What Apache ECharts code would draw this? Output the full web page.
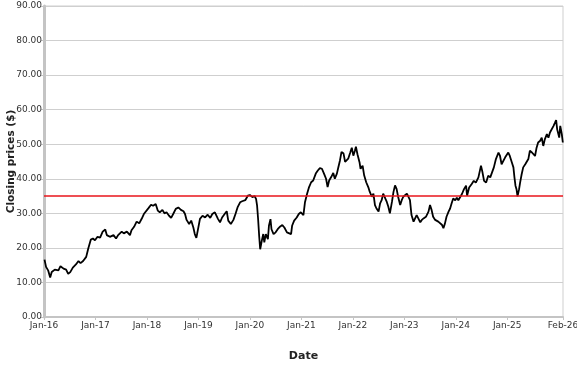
<!DOCTYPE html>
<html>
<head>
<meta charset="utf-8">
<script src="https://cdn.jsdelivr.net/npm/echarts@6/dist/echarts.min.js"></script>
<style>html,body{margin:0;padding:0;background:#fff}#c{width:577px;height:367px}</style>
</head>
<body>
<div id="c"></div>
<script>
// Dates as decimal years
const dates = [
2016.01,2016.04,2016.08,2016.12,2016.15,2016.21,2016.28,2016.32,2016.38,2016.43,2016.47,2016.51,2016.56,2016.62,2016.67,2016.71,2016.76,2016.82,2016.86,2016.91,2016.95,2016.99,
2017.04,2017.09,2017.14,2017.19,2017.22,2017.28,2017.35,2017.40,2017.44,2017.51,2017.55,2017.61,2017.67,2017.70,2017.75,2017.80,2017.85,2017.90,2017.94,
2018.03,2018.08,2018.12,2018.17,2018.21,2018.25,2018.30,2018.34,2018.38,2018.43,2018.47,2018.51,2018.56,2018.61,2018.66,2018.71,2018.74,2018.77,2018.82,2018.86,2018.90,2018.93,2018.96,
2019.00,2019.03,2019.08,2019.13,2019.18,2019.23,2019.27,2019.32,2019.38,2019.42,2019.46,2019.52,2019.55,2019.58,2019.63,2019.68,2019.72,2019.76,2019.81,2019.85,2019.91,2019.96,
2020.00,2020.05,2020.09,2020.12,2020.14,2020.16,2020.18,2020.20,2020.23,2020.26,2020.28,2020.31,2020.35,2020.37,2020.40,2020.42,2020.46,2020.50,2020.54,2020.59,2020.63,2020.67,2020.72,2020.75,2020.80,2020.82,2020.86,2020.91,2020.95,2020.99,
2021.04,2021.07,2021.11,2021.15,2021.19,2021.23,2021.28,2021.32,2021.36,2021.40,2021.44,2021.48,2021.51,2021.54,2021.58,2021.62,2021.65,2021.69,2021.72,2021.75,2021.78,2021.82,2021.85,2021.88,2021.91,2021.95,2021.98,
2022.01,2022.04,2022.06,2022.09,2022.13,2022.15,2022.19,2022.22,2022.26,2022.30,2022.33,2022.37,2022.40,2022.43,2022.46,2022.50,2022.53,2022.56,2022.59,2022.63,2022.66,2022.69,2022.72,2022.76,2022.79,2022.82,2022.85,2022.88,2022.92,2022.95,2022.98,
2023.01,2023.05,2023.08,2023.11,2023.14,2023.18,2023.21,2023.24,2023.27,2023.31,2023.34,2023.38,2023.42,2023.47,2023.50,2023.53,2023.56,2023.60,2023.63,2023.66,2023.69,2023.73,2023.76,2023.79,2023.82,2023.86,2023.89,2023.92,2023.95,2023.99,
2024.02,2024.05,2024.08,2024.12,2024.16,2024.20,2024.22,2024.26,2024.31,2024.35,2024.39,2024.44,2024.49,2024.52,2024.55,2024.59,2024.63,2024.67,2024.70,2024.74,2024.78,2024.83,2024.86,2024.89,2024.92,2024.96,2024.99,
2025.02,2025.05,2025.09,2025.12,2025.14,2025.16,2025.18,2025.20,2025.23,2025.25,2025.28,2025.31,2025.35,2025.38,2025.41,2025.44,2025.48,2025.51,2025.54,2025.57,2025.60,2025.64,2025.67,2025.70,2025.73,2025.77,2025.80,2025.83,2025.86,2025.90,2025.93,2025.95,2025.97,
2026.01,2026.03,2026.06,2026.08
];
const closes = [
16.6,14.5,13.5,11.4,13.0,13.7,13.5,14.7,14.0,13.7,12.5,13.0,14.3,15.2,16.2,15.6,16.2,17.4,19.8,22.4,22.7,22.2,
23.2,23.0,24.7,25.3,23.7,23.2,23.7,22.7,23.7,24.7,24.2,24.7,23.7,25.1,26.1,27.6,27.1,28.5,29.8,
31.5,32.5,32.2,32.7,30.8,30.3,31.0,30.0,30.3,29.3,28.7,29.8,31.3,31.7,31.0,30.6,29.8,28.1,26.9,27.9,26.0,24.0,22.9,
26.0,28.4,29.3,28.8,29.6,28.7,29.8,30.3,28.4,27.4,28.8,30.0,30.6,27.9,26.9,28.1,29.8,31.7,33.2,33.5,33.8,35.1,
35.3,34.7,35.0,34.2,32.2,28.3,23.5,19.6,22.0,24.0,21.6,24.0,22.5,26.4,28.3,25.4,24.0,24.5,25.4,26.2,26.6,25.9,24.5,24.0,24.0,26.4,27.9,28.8,29.8,30.3,
29.5,33.2,35.6,37.6,39.0,39.5,41.5,42.4,43.1,42.9,41.5,40.0,37.6,39.5,40.5,41.7,40.0,41.5,43.4,45.3,47.8,47.3,44.9,44.4,45.8,47.6,49.0,
46.7,48.1,49.3,47.1,44.8,42.9,43.8,41.0,39.0,37.6,36.2,34.8,35.7,32.4,31.4,30.5,32.9,33.8,35.7,34.3,33.3,31.9,30.0,33.3,36.2,38.1,37.1,34.8,32.4,33.8,34.8,
35.2,35.7,34.8,33.8,29.5,27.6,28.1,29.5,28.6,27.4,28.1,28.6,29.0,30.5,32.4,31.0,29.0,28.1,28.6,27.6,27.1,26.7,25.7,27.1,29.0,30.5,31.4,32.9,34.3,33.8,
34.5,33.8,34.3,35.6,37.0,38.0,35.1,37.5,38.5,39.4,38.9,40.4,43.8,41.8,39.4,38.9,40.9,40.4,39.9,43.3,45.7,47.6,46.6,44.2,43.8,46.2,46.6,
47.6,46.6,44.7,43.3,40.4,38.0,37.0,34.9,37.0,38.9,41.3,43.3,44.2,44.7,45.7,48.1,47.6,47.1,46.6,49.0,50.5,51.0,51.9,49.5,51.4,52.9,51.9,53.4,53.8,55.3,56.3,57.0,54.3,
51.9,55.3,52.9,50.5
];
const threshold = 35;
const xTickValues = [2016,2017,2018,2019,2020,2021,2022,2023,2024,2025,2026.0833];
const xTickLabels = ['Jan-16','Jan-17','Jan-18','Jan-19','Jan-20','Jan-21','Jan-22','Jan-23','Jan-24','Jan-25','Feb-26'];

const chart = echarts.init(document.getElementById('c'), null, {renderer: 'canvas'});
const font = 'DejaVu Sans';
chart.setOption({
  animation: false,
  backgroundColor: '#fff',
  grid: {left: 44, right: 14, top: 6, bottom: 50, outerBoundsMode: 'none', containLabel: false, show: true, borderColor: '#cfcfcf', borderWidth: 1},
  xAxis: {
    type: 'value', min: 2016, max: 2026.0833,
    name: 'Date', nameLocation: 'middle', nameGap: 34, nameMoveOverlap: false,
    nameTextStyle: {fontFamily: font, fontWeight: 'bold', fontSize: 11, color: '#222'},
    axisLine: {show: true, lineStyle: {color: '#c4c4c4', width: 2}},
    axisTick: {show: true, length: 3, customValues: xTickValues, lineStyle: {color: '#c4c4c4'}},
    splitLine: {show: false},
    axisLabel: {
      customValues: xTickValues, fontFamily: font, fontSize: 9, color: '#333', margin: 4,
      formatter: v => { const i = xTickValues.findIndex(t => Math.abs(t - v) < 1e-3); return i >= 0 ? xTickLabels[i] : ''; }
    }
  },
  yAxis: {
    type: 'value', min: 0, max: 90, interval: 10,
    name: 'Closing prices ($)', nameLocation: 'middle', nameGap: 27, nameMoveOverlap: false,
    nameTextStyle: {fontFamily: font, fontWeight: 'bold', fontSize: 10.5, color: '#222'},
    axisLine: {show: true, lineStyle: {color: '#c4c4c4', width: 3}},
    axisTick: {show: true, length: 3, lineStyle: {color: '#c4c4c4'}},
    splitLine: {show: true, lineStyle: {color: '#cfcfcf', width: 1.2}},
    axisLabel: {fontFamily: font, fontSize: 9, color: '#333', margin: 2, formatter: v => v.toFixed(2)}
  },
  series: [{
    type: 'line',
    data: dates.map((d, i) => [d, closes[i]]),
    showSymbol: false,
    symbol: 'none',
    lineStyle: {color: '#000', width: 1.8},
    markLine: {
      silent: true, symbol: 'none', label: {show: false},
      lineStyle: {color: '#e8141b', width: 1.6, type: 'solid'},
      data: [{yAxis: threshold}]
    }
  }]
});
</script>
</body>
</html>
